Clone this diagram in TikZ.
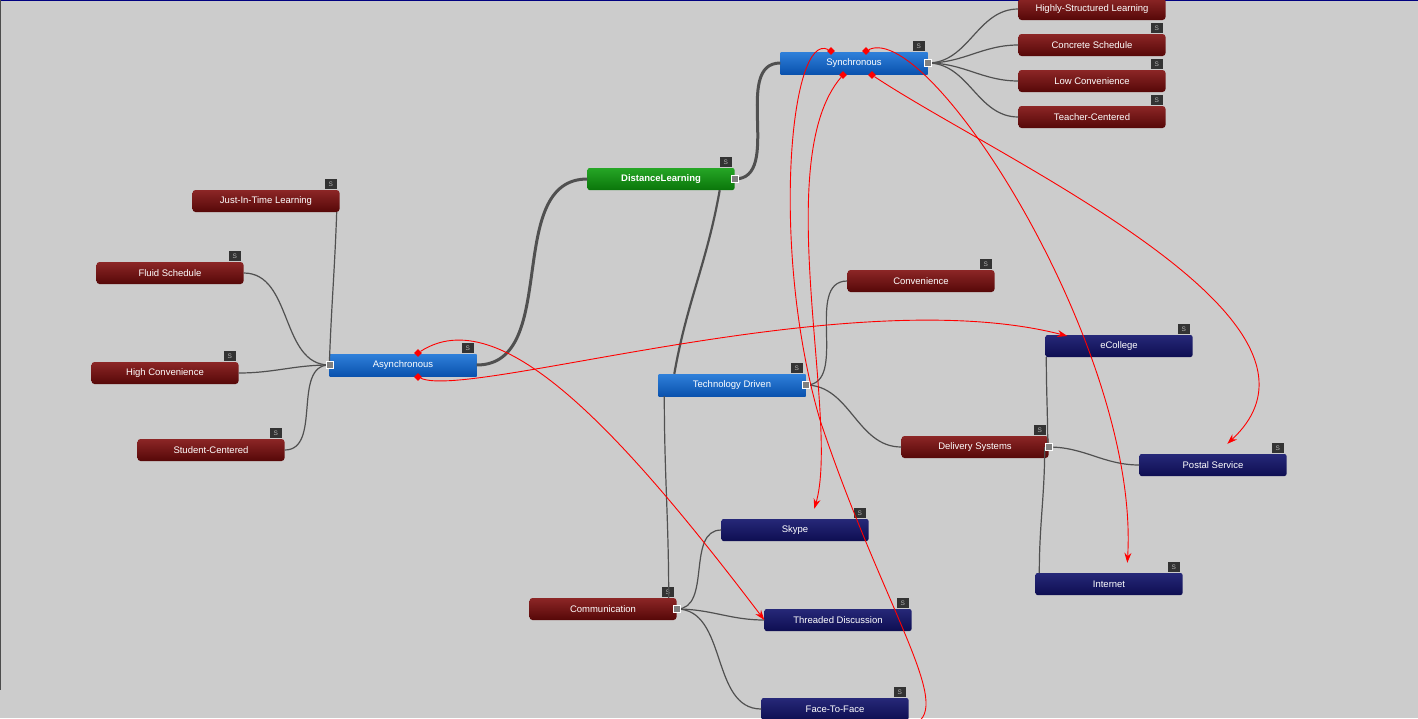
\documentclass[tikz,border=0pt]{standalone}
\usepackage{fontspec}
\setmainfont{Liberation Sans}
\usetikzlibrary{calc,arrows.meta,shapes.geometric}
\definecolor{bg}{HTML}{CCCCCC}
\definecolor{mtop}{HTML}{8C2626}\definecolor{mbot}{HTML}{560808}
\definecolor{btop}{HTML}{2F80DA}\definecolor{bbot}{HTML}{0A52AE}
\definecolor{ntop}{HTML}{262878}\definecolor{nbot}{HTML}{0E0E52}
\definecolor{gtop}{HTML}{26A626}\definecolor{gbot}{HTML}{0A760A}
\definecolor{edge}{HTML}{505050}
\tikzset{
 box/.style={minimum width=147pt,minimum height=22pt,inner sep=0pt,text=white,font=\fontsize{9.5}{11}\selectfont},
 mar/.style={box,rounded corners=3pt,top color=mtop,bottom color=mbot},
 blu/.style={box,top color=btop,bottom color=bbot},
 nav/.style={box,top color=ntop,bottom color=nbot,rounded corners=2pt},
 grn/.style={box,rounded corners=2pt,top color=gtop,bottom color=gbot,font=\bfseries\fontsize{9.5}{11}\selectfont},
 badge/.style={fill=black!80,minimum width=12pt,minimum height=10pt,inner sep=0pt,text=gray!60,font=\fontsize{6.5}{6.5}\selectfont},
 port/.style={fill=gray,draw=white,line width=0.6pt,minimum size=7pt,inner sep=0pt},
 ed/.style={draw=edge,line width=1.2pt},
 thk/.style={draw=edge,line width=3pt},
 rel/.style={draw=red,line width=0.9pt,-{Stealth[length=10pt,width=7pt]}},
 dia/.style={fill=red,diamond,inner sep=0pt,minimum size=8pt},
}
\begin{document}
\begin{tikzpicture}[x=1pt,y=-1pt]
\fill[bg] (0,0) rectangle (1418,718);
\useasboundingbox (0,0) rectangle (1418,718);
\draw[blue!50!black,line width=1pt] (0,0.5)--(1418,0.5);
\draw[gray!60!black,line width=0.6pt] (0.5,0)--(0.5,690);
% nodes
\node[grn] (dl) at (661,179) {DistanceLearning};
\node[blu] (sy) at (854,63) {Synchronous};
\node[blu] (as) at (403,365) {Asynchronous};
\node[blu] (td) at (732,385) {Technology Driven};
\node[mar] (hs) at (1092,9) {Highly-Structured Learning};
\node[mar] (cs) at (1092,45) {Concrete Schedule};
\node[mar] (lc) at (1092,81) {Low Convenience};
\node[mar] (tc) at (1092,117) {Teacher-Centered};
\node[mar] (jit) at (266,201) {Just-In-Time Learning};
\node[mar] (fs) at (170,273) {Fluid Schedule};
\node[mar] (hc) at (165,373) {High Convenience};
\node[mar] (sc) at (211,450) {Student-Centered};
\node[mar] (cv) at (921,281) {Convenience};
\node[mar] (ds) at (975,447) {Delivery Systems};
\node[mar] (cm) at (603,609) {Communication};
\node[nav] (ec) at (1119,346) {eCollege};
\node[nav] (ps) at (1213,465) {Postal Service};
\node[nav] (in) at (1109,584) {Internet};
\node[nav] (sk) at (795,530) {Skype};
\node[nav] (th) at (838,620) {Threaded Discussion};
\node[nav] (ff) at (835,709) {Face-To-Face};
\foreach \n in {dl,sy,as,td,cs,lc,tc,jit,fs,hc,sc,cv,ds,cm,ec,ps,in,sk,th,ff} {\node[badge] (b\n) at ($(\n.north east)+(-9,-6)$) {S};}
% edges
\draw[thk] (dl.east) to[out=0,in=180] (sy.west);
\draw[thk] (dl.west) to[out=180,in=0] (as.east);
\draw[line width=2.2pt,draw=edge] ($(dl.south east)+(-15,0)$) to[out=260,in=80] ($(td.north west)+(16,0)$);
\draw[ed] ($(td.south west)+(6,0)$) to[out=270,in=90] ($(cm.north east)+(-8,0)$);
\foreach \c in {hs,cs,lc,tc} \draw[ed] (sy.east) to[out=0,in=180] (\c.west);
\draw[ed] (as.west) to[out=88,in=268] ($(jit.south east)+(-3,0)$);
\foreach \c in {fs,hc,sc} \draw[ed] (as.west) to[out=180,in=0] (\c.east);
\draw[ed] (td.east) to[out=0,in=180] (cv.west);
\draw[ed] (td.east) to[out=0,in=180] (ds.west);
\draw[ed] ($(ds.east)+(-1,0)$) to[out=90,in=270] ($(ec.south west)+(1,0)$);
\draw[ed] (ds.east) to[out=0,in=180] (ps.west);
\draw[ed] ($(ds.east)+(-4,0)$) to[out=270,in=90] ($(in.north west)+(4,0)$);
\foreach \c in {sk,th,ff} \draw[ed] (cm.east) to[out=0,in=180] (\c.west);
\foreach \n in {dl,sy,td,ds,cm} \node[port] at (\n.east) {};
\node[port] at (as.west) {};
% relations
\node[dia] (a1) at (418,353) {};
\node[dia] (a2) at (418,377) {};
\node[dia] (s1) at (831,51) {};
\node[dia] (s2) at (866,51) {};
\node[dia] (s3) at (843,75) {};
\node[dia] (s4) at (872,75) {};
\coordinate (off) at (918,722);
\draw[rel] (a1) .. controls (500,300) and (620,430) .. (th.west);
\draw[rel] (a2) .. controls (470,400) and (850,280) .. ($(ec.west)+(22,-10)$);
\draw[draw=red,line width=0.9pt] (s1) .. controls (790,30) and (770,250) .. (820,420) .. controls (880,600) and (950,700) .. (off);
\draw[rel] (s2) .. controls (930,20) and (1140,350) .. ($(in.north west)+(92,-10)$);
\draw[rel] (s3) .. controls (770,160) and (840,420) .. ($(sk.north west)+(93,-10)$);
\draw[rel] (s4) .. controls (1000,160) and (1360,320) .. ($(ps.north west)+(88,-10)$);
\end{tikzpicture}
\end{document}
